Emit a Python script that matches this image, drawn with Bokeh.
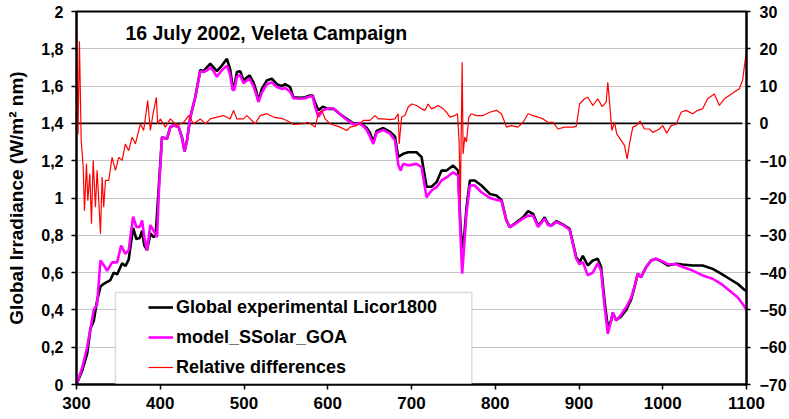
from bokeh.plotting import figure
from bokeh.models import (Range1d, LinearAxis, FixedTicker, CustomJSTickFormatter,
                          Legend, LegendItem, BoxAnnotation, Label)
from bokeh.embed import file_html
from bokeh.resources import INLINE

# ---------------- data ----------------
wl_exp = [300, 306.8, 312.7, 316.7, 320.6, 324.6, 328.6, 332.6, 336.6, 340.5, 344.5, 348.5,
          354.5, 358.4, 362.3, 367.6, 371.5, 375.5, 378.3, 381, 384.2, 388.2, 392.1, 394.5,
          398.1, 402.1, 408, 412, 416, 421.9, 425.9, 429, 432, 435.9, 441.8, 447.8, 451.7,
          455.7, 459.7, 463.6, 467.6, 473.6, 479.6, 483.5, 486.3, 488.5, 491.5, 495.5, 499.4,
          503.5, 506.6, 511.3, 514.3, 517.3, 521.3, 527.3, 533.2, 539.2, 545.2, 549.1, 555.1,
          559, 567, 572.9, 578.9, 581.9, 584.9, 588.8, 594, 600.7, 606.8, 614.6, 622.6, 630.5,
          638.5, 642.5, 646.5, 650.4, 654.4, 658.4, 666.3, 674.3, 680.2, 684.1, 690.1, 696.1,
          706, 712, 718, 723.9, 729.9, 735.9, 741.8, 749.7, 755.7, 758.5, 760.5, 763, 765.7,
          769.7, 775.5, 783.5, 793.5, 801.4, 807.4, 813.3, 817.3, 825.3, 833.2, 839.2, 845.1,
          851.1, 855, 859, 862.9, 866.9, 872.9, 880.8, 888.8, 896.7, 900.7, 904.6, 910.5,
          916.5, 922.4, 926.4, 930.5, 934.4, 938.4, 940.3, 944.3, 950.3, 956.3, 962.2, 966.2,
          970.1, 974.2, 980.1, 986.1, 992, 999.9, 1005.9, 1015.8, 1023.8, 1035.7, 1047.6,
          1059.6, 1069.6, 1079.5, 1089.4, 1097.4, 1100]
irr_exp = [0, 0.075, 0.165, 0.30, 0.34, 0.45, 0.525, 0.54, 0.55, 0.56, 0.60, 0.59,
           0.65, 0.635, 0.67, 0.84, 0.78, 0.785, 0.825, 0.745, 0.72, 0.81, 0.79, 0.80,
           1.05, 1.326, 1.317, 1.38, 1.39, 1.38, 1.326, 1.25, 1.31, 1.433, 1.54, 1.687, 1.68,
           1.70, 1.72, 1.70, 1.68, 1.71, 1.746, 1.69, 1.60, 1.60, 1.675, 1.68, 1.63,
           1.647, 1.657, 1.62, 1.58, 1.52, 1.585, 1.63, 1.64, 1.61, 1.60, 1.61, 1.594,
           1.54, 1.537, 1.54, 1.55, 1.55, 1.51, 1.47, 1.49, 1.478, 1.478, 1.45, 1.425, 1.40,
           1.40, 1.39, 1.375, 1.35, 1.30, 1.36, 1.375, 1.355, 1.33, 1.22, 1.237, 1.245,
           1.245, 1.22, 1.06, 1.06, 1.085, 1.147, 1.147, 1.174, 1.147, 0.85, 0.73, 0.80, 0.95,
           1.094, 1.094, 1.067, 1.022, 1.013, 0.99, 0.88, 0.843, 0.87, 0.897, 0.93, 0.915,
           0.853, 0.87, 0.897, 0.86, 0.853, 0.876, 0.858, 0.835, 0.683, 0.656, 0.69, 0.638,
           0.665, 0.674, 0.63, 0.45, 0.307, 0.343, 0.385, 0.345, 0.365, 0.40, 0.455, 0.52,
           0.594, 0.575, 0.629, 0.665, 0.674, 0.656, 0.638, 0.647, 0.643, 0.638, 0.638,
           0.62, 0.594, 0.567, 0.54, 0.508, 0.50]

wl_mod = [300, 306.8, 312.7, 316.7, 320.6, 324.6, 328.6, 332.6, 336.6, 342.5, 348.5, 353.3,
          358.4, 362.3, 367.6, 371.5, 375.5, 378.3, 381, 384.2, 388.2, 392.1, 396.2, 398.5,
          402.1, 408, 412, 416, 421.9, 425.9, 429, 432, 435.9, 441.8, 447.8, 451.7, 455.7,
          459.7, 463.6, 467.6, 473.6, 479.6, 483.5, 486.3, 488.5, 491.5, 495.5, 499.4, 503.5,
          506.6, 511.3, 514.3, 517.3, 521.3, 527.3, 533.2, 539.2, 545.2, 549.1, 555.1, 559,
          567, 572.9, 578.9, 581.9, 584.9, 588.8, 594, 600.7, 606.8, 614.6, 622.6, 630.5,
          638.5, 642.5, 646.5, 650.4, 654.4, 658.4, 666.3, 674.3, 680.2, 684.1, 687, 690.1,
          696.1, 706, 712, 718, 723.9, 729.9, 735.9, 741.8, 749.7, 755.7, 758.5, 760.5, 763,
          765.7, 769.7, 775.5, 783.5, 793.5, 801.4, 807.4, 813.3, 817.3, 825.3, 833.2, 839.2,
          845.1, 851.1, 855, 859, 862.9, 866.9, 872.9, 880.8, 888.8, 896.7, 900.7, 904.6,
          910.5, 916.5, 922.4, 926.4, 930.5, 934.4, 938.4, 940.3, 944.3, 950.3, 956.3, 962.2,
          966.2, 970.1, 974.2, 980.1, 986.1, 992, 999.9, 1005.9, 1015.8, 1023.8, 1035.7,
          1047.6, 1059.6, 1069.6, 1079.5, 1089.4, 1097.4, 1100]
irr_mod = [0, 0.09, 0.20, 0.30, 0.40, 0.43, 0.665, 0.64, 0.61, 0.655, 0.655, 0.745,
           0.70, 0.72, 0.90, 0.845, 0.845, 0.88, 0.79, 0.72, 0.855, 0.825, 0.79, 1.05,
           1.326, 1.317, 1.38, 1.39, 1.38, 1.326, 1.25, 1.31, 1.433, 1.54, 1.68, 1.675, 1.684,
           1.70, 1.68, 1.65, 1.685, 1.71, 1.66, 1.58, 1.58, 1.65, 1.66, 1.615, 1.63,
           1.64, 1.60, 1.56, 1.515, 1.565, 1.61, 1.62, 1.595, 1.585, 1.59, 1.57, 1.535,
           1.532, 1.535, 1.545, 1.545, 1.49, 1.435, 1.47, 1.48, 1.48, 1.45, 1.42, 1.395,
           1.40, 1.385, 1.365, 1.33, 1.29, 1.35, 1.365, 1.345, 1.31, 1.18, 1.147, 1.183,
           1.175, 1.183, 1.165, 1.004, 1.04, 1.058, 1.094, 1.11, 1.138, 1.12, 0.80, 0.595, 0.75,
           0.92, 1.067, 1.067, 1.031, 1.0, 0.99, 0.985, 0.88, 0.843, 0.865, 0.89, 0.906,
           0.905, 0.845, 0.865, 0.89, 0.855, 0.85, 0.872, 0.855, 0.83, 0.675, 0.645, 0.656,
           0.585, 0.60, 0.65, 0.61, 0.42, 0.272, 0.343, 0.388, 0.343, 0.375, 0.415, 0.465,
           0.525, 0.594, 0.575, 0.629, 0.665, 0.674, 0.66, 0.645, 0.645, 0.63, 0.611,
           0.585, 0.567, 0.54, 0.504, 0.468, 0.42, 0.397]

wl_rel = [300, 301.8, 303.5, 305.6, 308, 309.5, 311.9, 313.5, 315.9, 317.9, 319.9, 322.6,
          324.6, 326.6, 328.6, 330.6, 332.5, 334.6, 338.5, 342.5, 346.5, 350.4, 354.5, 358.4,
          362.3, 366.4, 370.3, 376.3, 380.2, 385, 388.2, 391.4, 395.4, 396.9, 400.1, 406.1,
          412, 420, 427.9, 433.9, 439.8, 447.8, 453.8, 459.7, 467.6, 475.6, 483.5, 487.5,
          491.5, 499.4, 503.5, 513.3, 519.3, 527.3, 535.2, 547.1, 555.1, 559, 570.9, 576.9,
          584.9, 588.8, 592.8, 596.9, 602.7, 614.6, 622.6, 626.6, 634.5, 642.5, 650.4, 656.4,
          660.3, 666.3, 674.3, 680.2, 684.1, 685.3, 688.2, 692.1, 696.1, 700.1, 706, 712,
          716, 719.9, 723.9, 727.9, 731.8, 737.8, 741.8, 745.8, 751.7, 754.9, 756.8, 758.3,
          760.5, 761.6, 763.6, 765.7, 768.4, 771.6, 777.5, 785.5, 793.5, 801.4, 807.4, 811.3,
          813.3, 819.3, 827.3, 833.2, 839.2, 845.1, 851.1, 857.1, 862.9, 868.9, 874.9, 882.8,
          892.7, 896.7, 900.7, 906.6, 910.5, 916.5, 922.4, 927.7, 932.4, 934.4, 937.3, 939.2,
          942.4, 945.1, 950.4, 954.3, 957.5, 960.3, 964.2, 968.2, 973, 978.2, 984.1, 988.1,
          996.1, 1000, 1004.7, 1010, 1015.8, 1021.9, 1027.8, 1035.7, 1041.7, 1047.6, 1053.6,
          1061.6, 1067.6, 1073.5, 1079.5, 1085.4, 1091.4, 1095.3, 1099.4]
rel_diff = [30, -3, 22, -4.6, -11.7, -23.4, -10.8, -20.7, -13.5, -26.9, -9.9, -22.5,
            -12.6, -20.7, -29.6, -14.4, -22.5, -15.3, -15.3, -9.1, -12.6, -9.1, -9.9, -5.5,
            -7.3, -3.7, -5.5, -0.1, -1.9, 6.1, -1.9, 2.6, 7.0, -0.1, 1.2, -1.0,
            1.2, -0.6, 0.3, 2.1, -0.1, 1.2, -0.1, 1.2, 1.7, 2.1, 1.2, 3.5,
            1.2, 1.2, 2.1, -0.1, 2.1, 2.6, 1.7, 1.2, 0.3, -0.3, -0.1, 0.3,
            -1.0, 2.6, 3.5, 1.2, -0.1, -1.0, -1.9, -1.0, -0.6, 0.8, 0.8, 2.1,
            1.2, 1.2, 1.0, 1.2, 2.6, -5.5, 1.7, 2.1, 4.4, 5.2, 4.8, 3.9,
            3.5, 5.2, 3.9, 4.3, 4.8, 3.9, 3.0, 1.7, 2.1, 2.6, -4.6, -21,
            16.4, -8.2, -3.7, -5.0, 1.7, 2.6, 2.1, 2.1, 3.0, 3.5, 2.6, 0.3,
            -1.0, -0.6, -1.0, 0.3, 2.6, 2.1, 1.7, 1.2, 0.3, 0.3, -1.5, -1.0,
            -1.0, -0.8, 5.2, 6.6, 7.0, 4.8, 6.6, 4.5, 5.7, 11.0, 3.5, -1.9,
            0.3, -2.8, -4.6, -5.9, -9.5, -5.5, -1.0, -0.6, 0.6, -1.5, -1.5, -2.4,
            -1.5, -0.6, -2.6, -0.6, -0.3, 3.0, 3.5, 2.6, 3.5, 3.9, 6.6,
            7.9, 4.8, 6.6, 7.5, 8.4, 9.3, 11.5, 18.6]

zero_x = [300, 1095]
zero_y = [0, 0]

x_ticks = [300, 400, 500, 600, 700, 800, 900, 1000, 1100]
left_ticks = [0, 0.2, 0.4, 0.6, 0.8, 1.0, 1.2, 1.4, 1.6, 1.8, 2.0]
right_ticks = [-70, -60, -50, -40, -30, -20, -10, 0, 10, 20, 30]

title_text = "16 July 2002, Veleta Campaign"
y_label = "Global Irradiance (W/m\u00b2 nm)"
names = ["Global experimental Licor1800", "model_SSolar_GOA", "Relative differences"]

# ---------------- figure ----------------
FONT = "Liberation Sans"
p = figure(width=789, height=419, output_backend="svg", toolbar_location=None,
           x_range=Range1d(300, 1100), y_range=Range1d(0, 2),
           min_border_left=76, min_border_right=42, min_border_top=11, min_border_bottom=35)
p.extra_y_ranges = {"rel": Range1d(-70, 30)}
p.background_fill_color = "white"
p.border_fill_color = "white"
p.outline_line_color = "black"
p.outline_line_width = 2

xa = p.xaxis[0]
xa.ticker = FixedTicker(ticks=x_ticks)
ya = p.yaxis[0]
ya.ticker = FixedTicker(ticks=left_ticks)
ya.formatter = CustomJSTickFormatter(
    code="var s = (Math.round(tick*10)/10).toString(); return s.replace('.', ',');")
ya.axis_label = y_label
ya.axis_label_text_font = FONT
ya.axis_label_text_font_style = "bold"
ya.axis_label_text_font_size = "19px"
ya.axis_label_text_color = "black"
ya.axis_label_standoff = 11
ya.major_label_standoff = 8

ra = LinearAxis(y_range_name="rel", ticker=FixedTicker(ticks=right_ticks))
p.add_layout(ra, "right")

for ax in (xa, ya, ra):
    ax.axis_line_width = 2
    ax.axis_line_color = "black"
    ax.major_tick_line_width = 1.5
    ax.major_tick_line_color = "black"
    ax.major_tick_out = 5
    ax.major_tick_in = 0
    ax.minor_tick_line_color = None
    ax.major_label_text_font = FONT
    ax.major_label_text_font_style = "bold"
    ax.major_label_text_font_size = "16px"
    ax.major_label_text_color = "black"
ra.major_tick_out = 4
ra.major_label_standoff = 9
xa.major_label_text_font_size = "17px"
xa.major_label_standoff = 7

p.xgrid.grid_line_color = None
p.ygrid.grid_line_color = "#888888"
p.ygrid.grid_line_width = 1
p.ygrid.grid_line_dash = "1 1"

# ---------------- series ----------------
p.line(zero_x, zero_y, y_range_name="rel", line_color="black", line_width=1.6)
r_exp = p.line(wl_exp, irr_exp, line_color="black", line_width=2.6)
r_mod = p.line(wl_mod, irr_mod, line_color="#FF00FF", line_width=2.6)
r_rel = p.line(wl_rel, rel_diff, y_range_name="rel", line_color="#FF0000", line_width=1.2)

# ---------------- title ----------------
p.add_layout(Label(x=358.4, y=1.887, text=title_text, text_font=FONT,
                   text_font_style="bold", text_font_size="19.5px",
                   text_baseline="middle", text_color="black"))

# ---------------- legend ----------------
box = BoxAnnotation(left=346.5, right=772, bottom=0.004, top=0.493,
                    fill_color="white", fill_alpha=1.0,
                    line_color="#8c8c8c", line_width=1.5)
p.add_layout(box)
legend = Legend(items=[LegendItem(label=names[0], renderers=[r_exp]),
                       LegendItem(label=names[1], renderers=[r_mod]),
                       LegendItem(label=names[2], renderers=[r_rel])],
                location=(72, 2), padding=0, margin=0, spacing=0,
                glyph_width=25, glyph_height=30, label_height=30, label_standoff=3,
                border_line_color=None, background_fill_alpha=0,
                label_text_font=FONT, label_text_font_style="bold",
                label_text_font_size="18px", label_text_color="black")
p.add_layout(legend)

open("out.html", "w").write(file_html(p, INLINE))
